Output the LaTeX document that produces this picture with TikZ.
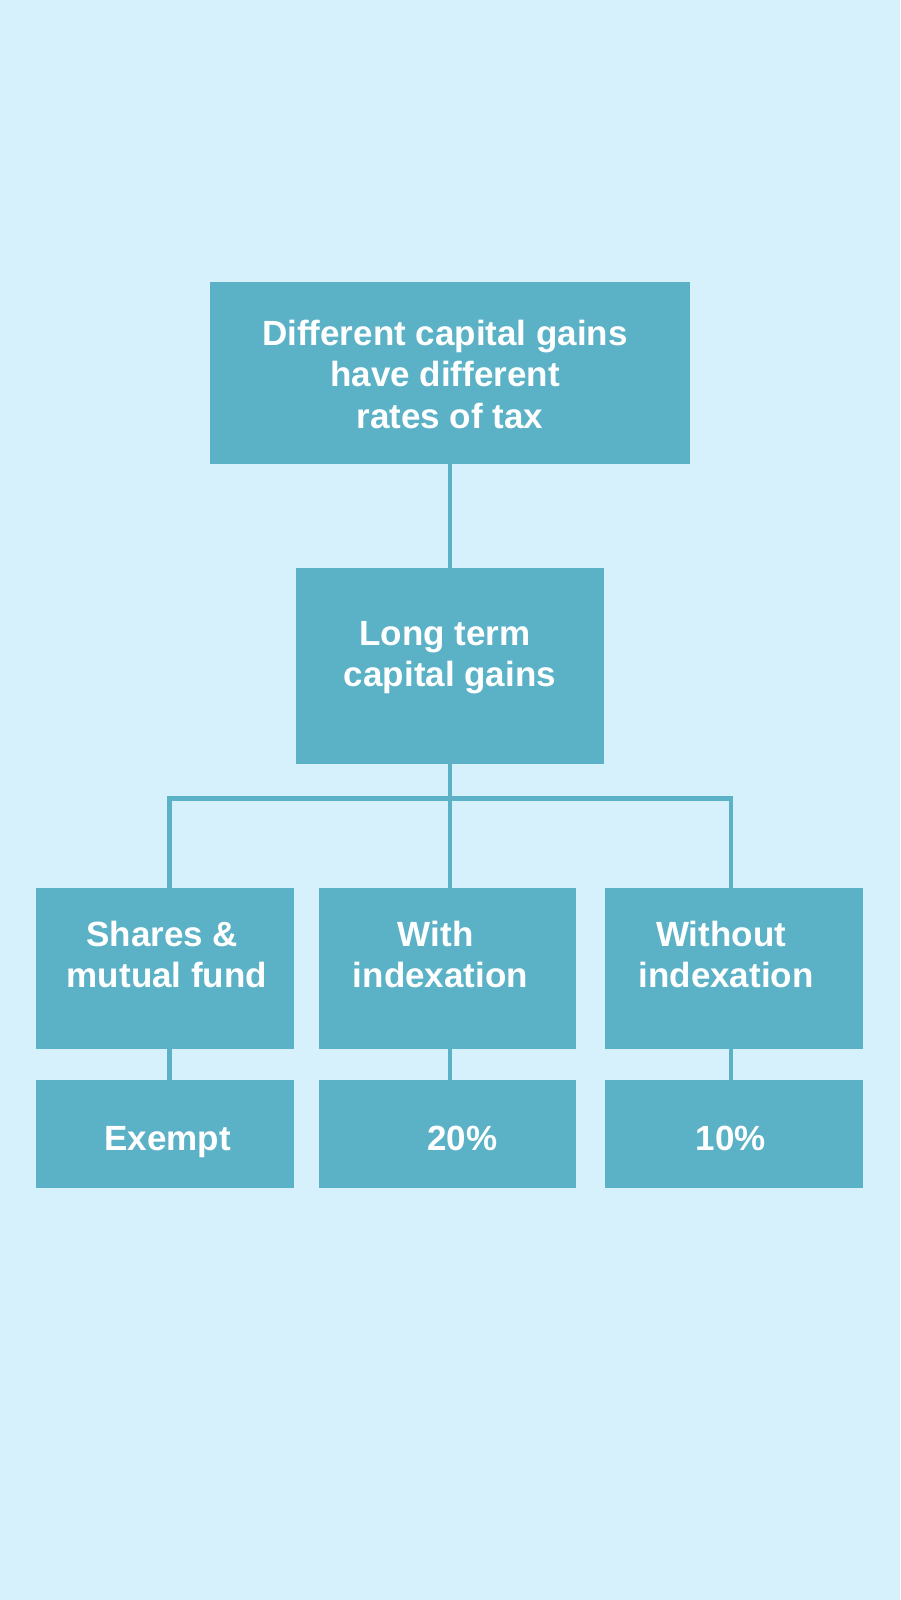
\documentclass[tikz,border=0pt]{standalone}
\usepackage{fontspec}
\setmainfont{Liberation Sans}
\definecolor{bgblue}{HTML}{D6F1FC}
\definecolor{boxblue}{HTML}{5BB2C6}
\newcommand{\trailsp}{\kern9.7pt}
\newcommand{\boxlines}[1]{\begin{tabular}[t]{@{}c@{}}#1\end{tabular}}
\begin{document}
\begin{tikzpicture}[x=1pt,y=-1pt,
  box/.style={fill=boxblue,draw=none,inner sep=0pt,outer sep=0pt,rectangle},
  lbl/.style={anchor=base,inner sep=0pt,outer sep=0pt,text=white,
    font=\fontsize{35}{41.5}\selectfont\bfseries},
  conn/.style={draw=boxblue,line width=4.5pt,line join=miter}]
\fill[bgblue] (0,0) rectangle (900,1600);
\useasboundingbox (0,0) rectangle (900,1600);
% boxes
\node[box,minimum width=480pt,minimum height=182pt] (top) at (450,373) {};
\node[box,minimum width=308pt,minimum height=196pt] (mid) at (450,666) {};
\node[box,minimum width=258pt,minimum height=161pt] (sh) at (165,968.5) {};
\node[box,minimum width=257pt,minimum height=161pt] (wi) at (447.5,968.5) {};
\node[box,minimum width=258pt,minimum height=161pt] (wo) at (734,968.5) {};
\node[box,minimum width=258pt,minimum height=108pt] (ex) at (165,1134) {};
\node[box,minimum width=257pt,minimum height=108pt] (tw) at (447.5,1134) {};
\node[box,minimum width=258pt,minimum height=108pt] (te) at (734,1134) {};
% texts
\node[lbl] (ttop) at (449.85,345) {\boxlines{Different capital gains\trailsp\\have different\trailsp\\rates of tax}};
\node[lbl] (tmid) at (450,645) {\boxlines{Long term\trailsp\\capital gains}};
\node[lbl] (tsh) at (167,946) {\boxlines{Shares \&\trailsp\\mutual fund}};
\node[lbl] (twi) at (440.5,946) {\boxlines{With\trailsp\\indexation}};
\node[lbl] (two) at (726,946) {\boxlines{Without\trailsp\\indexation}};
\node[lbl] (tex) at (167.5,1150) {Exempt};
\node[lbl] (ttw) at (462.5,1150) {20\%};
\node[lbl] (tte) at (731,1150) {10\%};
% connector points
\coordinate (jm) at (450,798.5);
\coordinate (jl) at (169.5,798.5);
\coordinate (jr) at (731,798.5);
% connectors
\draw[conn] (top.south) -- (mid.north);
\draw[conn] (mid.south) -- (jm);
\draw[conn] (jl |- sh.north) -- (jl) -- (jr) -- (jr |- wo.north);
\draw[conn] (jm) -- (jm |- wi.north);
\draw[conn] (jl |- sh.south) -- (jl |- ex.north);
\draw[conn] (jm |- wi.south) -- (jm |- tw.north);
\draw[conn] (jr |- wo.south) -- (jr |- te.north);
\end{tikzpicture}
\end{document}
